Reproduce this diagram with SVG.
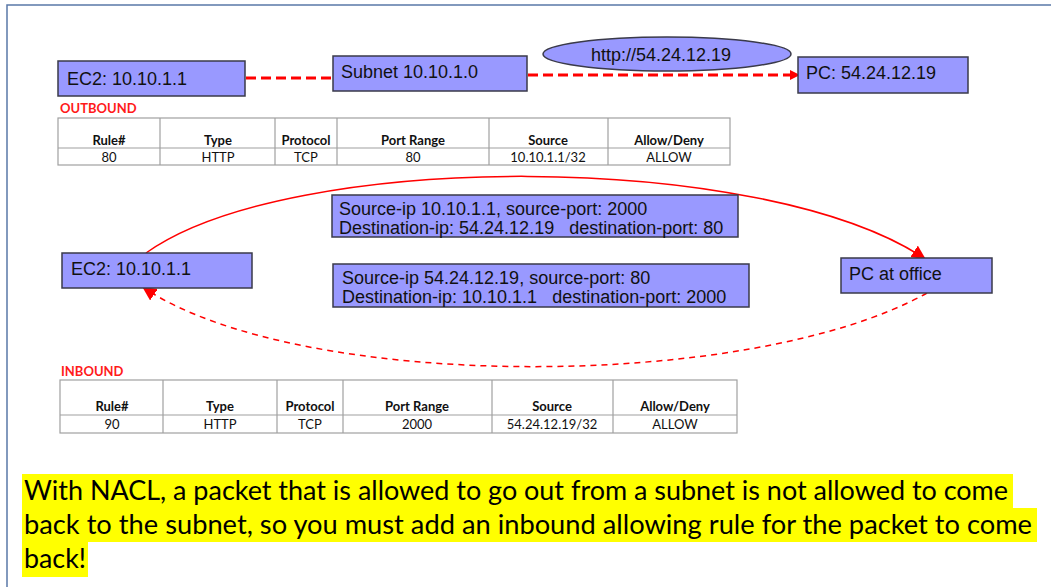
<svg xmlns="http://www.w3.org/2000/svg" width="1051" height="587" viewBox="0 0 1051 587">
<style>
.box{fill:#9999ff;stroke:#3a3a4a;stroke-width:1.5}
.bt{font-family:"Liberation Sans",Arial,sans-serif;fill:#111;font-size:18px}
.tbl{fill:#fff;stroke:#a0a0a0;stroke-width:1.2}
.tl{stroke:#a0a0a0;stroke-width:1.2}
.th{font-family:Lato,"Open Sans",sans-serif;font-weight:bold;font-size:13px;fill:#111;text-anchor:middle}
.td{font-family:Lato,"Open Sans",sans-serif;font-size:13px;fill:#111;text-anchor:middle}
.lbl{font-family:Lato,"Open Sans",sans-serif;font-weight:bold;font-size:13px;fill:#ff1a1a}
.note{font-family:Lato,"Open Sans",sans-serif;font-size:26px;fill:#000}
.hl{fill:#ffff00}
</style>
<defs>
<marker id="ah" markerWidth="10" markerHeight="10" refX="8" refY="5" orient="auto" markerUnits="userSpaceOnUse">
<path d="M0,0 L10,5 L0,10 z" fill="#ff0000"/>
</marker>
<marker id="ah2" markerWidth="14" markerHeight="14" refX="12" refY="7" orient="auto" markerUnits="userSpaceOnUse">
<path d="M0,0 L14,7 L0,14 z" fill="#ff0000"/>
</marker>
</defs>
<rect width="1051" height="587" fill="#fff"/>
<path d="M7,587 V5 H1051" fill="none" stroke="#5a78a8" stroke-width="1.5"/>

<g id="connectors" fill="none" stroke="#ff0000">
<line x1="246" y1="78" x2="333" y2="78" stroke-width="3" stroke-dasharray="10,5"/>
<line x1="528" y1="75" x2="798" y2="75" stroke-width="3" stroke-dasharray="10,5" marker-end="url(#ah)"/>
<path d="M146,253 C290,150 760,150 924,258" stroke-width="1.5" marker-end="url(#ah2)"/>
<path d="M927,293 C750,392 300,392 144,288" stroke-width="1.5" stroke-dasharray="6,5" marker-end="url(#ah2)"/>
</g>

<g id="ec2-top"><rect class="box" x="58" y="61" width="187" height="35"/><text class="bt" x="67" y="85">EC2: 10.10.1.1</text></g>
<g id="subnet"><rect class="box" x="333" y="56" width="194" height="35"/><text class="bt" x="341" y="78" font-size="19.5">Subnet 10.10.1.0</text></g>
<g id="http"><ellipse class="box" cx="667" cy="54" rx="124" ry="17"/><text class="bt" x="661" y="61" font-size="19.5" text-anchor="middle">http://54.24.12.19</text></g>
<g id="pc-top"><rect class="box" x="798" y="57" width="170" height="36"/><text class="bt" x="806" y="79" font-size="19.5">PC: 54.24.12.19</text></g>

<g id="outbound-table">
<text class="lbl" x="60" y="113">OUTBOUND</text>
<rect class="tbl" x="58" y="118" width="672" height="47"/>
<line class="tl" x1="58" y1="148" x2="730" y2="148"/>
<line class="tl" x1="160" y1="118" x2="160" y2="165"/>
<line class="tl" x1="275" y1="118" x2="275" y2="165"/>
<line class="tl" x1="337" y1="118" x2="337" y2="165"/>
<line class="tl" x1="489" y1="118" x2="489" y2="165"/>
<line class="tl" x1="608" y1="118" x2="608" y2="165"/>
<text class="th" x="109" y="145">Rule#</text>
<text class="th" x="218" y="145">Type</text>
<text class="th" x="306" y="145">Protocol</text>
<text class="th" x="413" y="145">Port Range</text>
<text class="th" x="548" y="145">Source</text>
<text class="th" x="669" y="145">Allow/Deny</text>
<text class="td" x="109" y="162">80</text>
<text class="td" x="218" y="162">HTTP</text>
<text class="td" x="306" y="162">TCP</text>
<text class="td" x="413" y="162">80</text>
<text class="td" x="548" y="162">10.10.1.1/32</text>
<text class="td" x="669" y="162">ALLOW</text>
</g>

<g id="pkt-out"><rect class="box" x="332" y="195" width="406" height="42"/>
<text class="bt" x="339" y="215" font-size="17.5">Source-ip 10.10.1.1, source-port: 2000</text>
<text class="bt" x="339" y="234" font-size="17.5" xml:space="preserve">Destination-ip: 54.24.12.19   destination-port: 80</text></g>
<g id="pkt-in"><rect class="box" x="333" y="264" width="416" height="43"/>
<text class="bt" x="342" y="284" font-size="17.5">Source-ip 54.24.12.19, source-port: 80</text>
<text class="bt" x="342" y="303" font-size="17.5" xml:space="preserve">Destination-ip: 10.10.1.1   destination-port: 2000</text></g>
<g id="ec2-mid"><rect class="box" x="62" y="253" width="190" height="35"/><text class="bt" x="71" y="275">EC2: 10.10.1.1</text></g>
<g id="pc-office"><rect class="box" x="841" y="258" width="151" height="35"/><text class="bt" x="849" y="280" font-size="19">PC at office</text></g>

<g id="inbound-table">
<text class="lbl" x="61" y="376">INBOUND</text>
<rect class="tbl" x="60" y="380" width="677" height="53"/>
<line class="tl" x1="60" y1="415" x2="737" y2="415"/>
<line class="tl" x1="163" y1="380" x2="163" y2="433"/>
<line class="tl" x1="277" y1="380" x2="277" y2="433"/>
<line class="tl" x1="343" y1="380" x2="343" y2="433"/>
<line class="tl" x1="492" y1="380" x2="492" y2="433"/>
<line class="tl" x1="613" y1="380" x2="613" y2="433"/>
<text class="th" x="112" y="411">Rule#</text>
<text class="th" x="220" y="411">Type</text>
<text class="th" x="310" y="411">Protocol</text>
<text class="th" x="417" y="411">Port Range</text>
<text class="th" x="552" y="411">Source</text>
<text class="th" x="675" y="411">Allow/Deny</text>
<text class="td" x="112" y="429">90</text>
<text class="td" x="220" y="429">HTTP</text>
<text class="td" x="310" y="429">TCP</text>
<text class="td" x="417" y="429">2000</text>
<text class="td" x="552" y="429">54.24.12.19/32</text>
<text class="td" x="675" y="429">ALLOW</text>
</g>

<g id="note">
<rect class="hl" x="22" y="474" width="991" height="34"/>
<rect class="hl" x="22" y="508" width="1015" height="34"/>
<rect class="hl" x="22" y="542" width="66" height="35"/>
<text class="note" x="24" y="500" textLength="984" lengthAdjust="spacingAndGlyphs">With NACL, a packet that is allowed to go out from a subnet is not allowed to come</text>
<text class="note" x="24" y="534" textLength="1008" lengthAdjust="spacingAndGlyphs">back to the subnet, so you must add an inbound allowing rule for the packet to come</text>
<text class="note" x="24" y="568" textLength="62" lengthAdjust="spacingAndGlyphs">back!</text>
</g>
</svg>
